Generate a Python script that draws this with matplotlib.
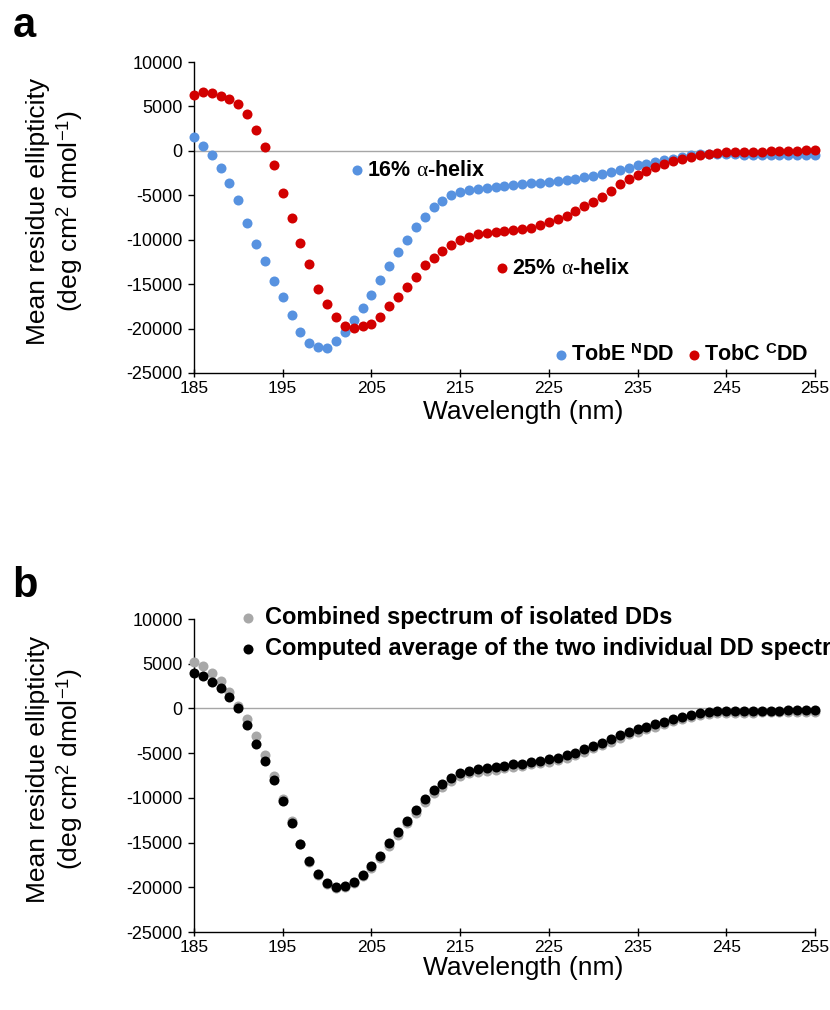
import numpy as np
import matplotlib
matplotlib.use('Agg')
import matplotlib.pyplot as plt

plt.rcParams['font.family'] = ['Liberation Sans', 'DejaVu Sans']
plt.rcParams['axes.unicode_minus'] = False
plt.rcParams['mathtext.fontset'] = 'custom'
plt.rcParams['mathtext.rm'] = 'Liberation Serif'
plt.rcParams['mathtext.default'] = 'rm'

# wavelength grid (nm), one reading per nm
wavelength = list(range(185, 256))

# panel a - CD spectra of the isolated docking domains
tobe_ndd = [1600, 560, -490, -1880, -3570, -5510, -8140, -10500, -12380, -14700,
            -16500, -18490, -20440, -21600, -22020, -22170, -21420, -20440, -19050, -17630,
            -16200, -14550, -12980, -11330, -10050, -8590, -7400, -6350, -5600, -5000,
            -4650, -4450, -4250, -4130, -4050, -3970, -3860, -3750, -3670, -3600,
            -3500, -3400, -3300, -3120, -2950, -2780, -2620, -2420, -2180, -1900,
            -1620, -1450, -1250, -1050, -860, -680, -500, -400, -370, -380,
            -400, -400, -410, -420, -420, -430, -430, -430, -430, -430, -430]
tobc_cdd = [6270, 6680, 6490, 6190, 5820, 5250, 4130, 2360, 450, -1580,
            -4690, -7500, -10350, -12750, -15560, -17250, -18650, -19690, -19950, -19730,
            -19430, -18650, -17480, -16500, -15300, -14180, -12830, -12080, -11290, -10610,
            -10050, -9650, -9400, -9250, -9150, -9050, -8950, -8850, -8660, -8360,
            -8000, -7700, -7300, -6750, -6250, -5750, -5150, -4500, -3750, -3200,
            -2750, -2250, -1870, -1500, -1130, -860, -680, -480, -300, -220,
            -180, -150, -120, -100, -80, -50, -20, 0, 30, 60, 80]

# panel b - combined spectrum vs computed average
combined = [5220, 4770, 3990, 3090, 1860, 290, -1200, -3100, -5230, -7580,
            -10160, -12620, -15120, -17200, -18600, -19600, -20050, -19980, -19520, -18750,
            -17850, -16750, -15350, -14100, -12850, -11650, -10450, -9450, -8750, -8100,
            -7500, -7250, -7100, -7000, -6900, -6700, -6550, -6450, -6250, -6150,
            -5950, -5800, -5500, -5200, -4850, -4450, -4100, -3700, -3250, -2900,
            -2600, -2350, -2050, -1750, -1450, -1150, -900, -700, -600, -520,
            -480, -470, -460, -460, -450, -450, -450, -450, -450, -450, -450]
computed = [3920, 3650, 2980, 2240, 1300, 0, -1900, -3920, -5900, -8030,
            -10350, -12810, -15120, -17060, -18480, -19490, -19980, -19900, -19420, -18590,
            -17660, -16500, -15050, -13820, -12590, -11390, -10160, -9150, -8480, -7830,
            -7230, -6970, -6820, -6710, -6600, -6400, -6250, -6180, -5990, -5880,
            -5690, -5510, -5240, -4950, -4570, -4200, -3830, -3450, -3000, -2630,
            -2330, -2070, -1770, -1480, -1210, -920, -680, -500, -380, -300,
            -270, -260, -250, -250, -240, -240, -230, -220, -210, -200, -190]

x_ticks = [185, 195, 205, 215, 225, 235, 245, 255]
y_ticks = [-25000, -20000, -15000, -10000, -5000, 0, 5000, 10000]

BLUE = '#5792E0'
RED = '#D20000'
GREY = '#A8A8A8'
MS = 52
LEGFONT = {'weight': 'bold', 'size': 15.5}


def style_axes(ax, xlab_y):
    ax.set_xlim(185, 255)
    ax.set_ylim(-25000, 10000)
    ax.set_xticks(x_ticks)
    ax.set_yticks(y_ticks)
    ax.axhline(0, color='#A6A6A6', lw=1.0, zorder=1)
    for s in ['top', 'right']:
        ax.spines[s].set_visible(False)
    for s in ['left', 'bottom']:
        ax.spines[s].set_linewidth(1.0)
    ax.tick_params(axis='x', direction='inout', length=6, width=1.0, labelsize=12.5, pad=3)
    ax.tick_params(axis='y', direction='out', length=4, width=1.0, labelsize=13, pad=4)
    ax.set_xlabel('Wavelength (nm)', fontsize=19)
    ax.xaxis.set_label_coords(0.53, xlab_y)
    ax.set_ylabel('Mean residue ellipticity\n(deg cm$^{\\mathregular{2}}$ dmol$^{\\mathregular{-1}}$)',
                  fontsize=19, multialignment='center')
    ax.yaxis.set_label_coords(-0.175, 0.52)


fig = plt.figure(figsize=(8.3, 10.1), dpi=100)

"""
panel a
"""
ax1 = fig.add_axes([0.2337, 0.6307, 0.7482, 0.3079])
style_axes(ax1, -0.087)
h_blue = ax1.scatter(wavelength, tobe_ndd, s=MS, color=BLUE, linewidths=0, zorder=3, clip_on=False)
h_red = ax1.scatter(wavelength, tobc_cdd, s=MS, color=RED, linewidths=0, zorder=4, clip_on=False)

leg_kw = dict(frameon=False, prop=LEGFONT, borderpad=0, borderaxespad=0,
              handlelength=0.5, handletextpad=0.2, loc='center left', scatterpoints=1)
lg1 = ax1.legend([h_blue], ['16% $\\alpha$-helix'], bbox_to_anchor=(0.2539, 0.6527), **leg_kw)
ax1.add_artist(lg1)
lg2 = ax1.legend([h_red], ['25% $\\alpha$-helix'], bbox_to_anchor=(0.4873, 0.3376), **leg_kw)
ax1.add_artist(lg2)
ax1.legend([h_blue, h_red], ['TobE $^{\\mathregular{N}}$DD', 'TobC $^{\\mathregular{C}}$DD'],
           ncol=2, columnspacing=0.7, bbox_to_anchor=(0.5823, 0.058), **leg_kw)

"""
panel b
"""
ax2 = fig.add_axes([0.2337, 0.0772, 0.7482, 0.3099])
style_axes(ax2, -0.078)
h_grey = ax2.scatter(wavelength, combined, s=MS, color=GREY, linewidths=0, zorder=3, clip_on=False)
h_black = ax2.scatter(wavelength, computed, s=MS, color='black', linewidths=0, zorder=4, clip_on=False)
ax2.legend([h_grey, h_black],
           ['Combined spectrum of isolated DDs',
            'Computed average of the two individual DD spectra'],
           frameon=False, prop={'weight': 'bold', 'size': 17.0}, borderpad=0, borderaxespad=0,
           handlelength=0.5, handletextpad=0.5, labelspacing=0.36,
           loc='center left', bbox_to_anchor=(0.0767, 0.955))

fig.text(13 / 830, 1 - 37 / 1010, 'a', fontsize=30, weight='bold', va='baseline', ha='left')
fig.text(12 / 830, 1 - 597 / 1010, 'b', fontsize=30, weight='bold', va='baseline', ha='left')

fig.savefig('out.png', dpi=100)
